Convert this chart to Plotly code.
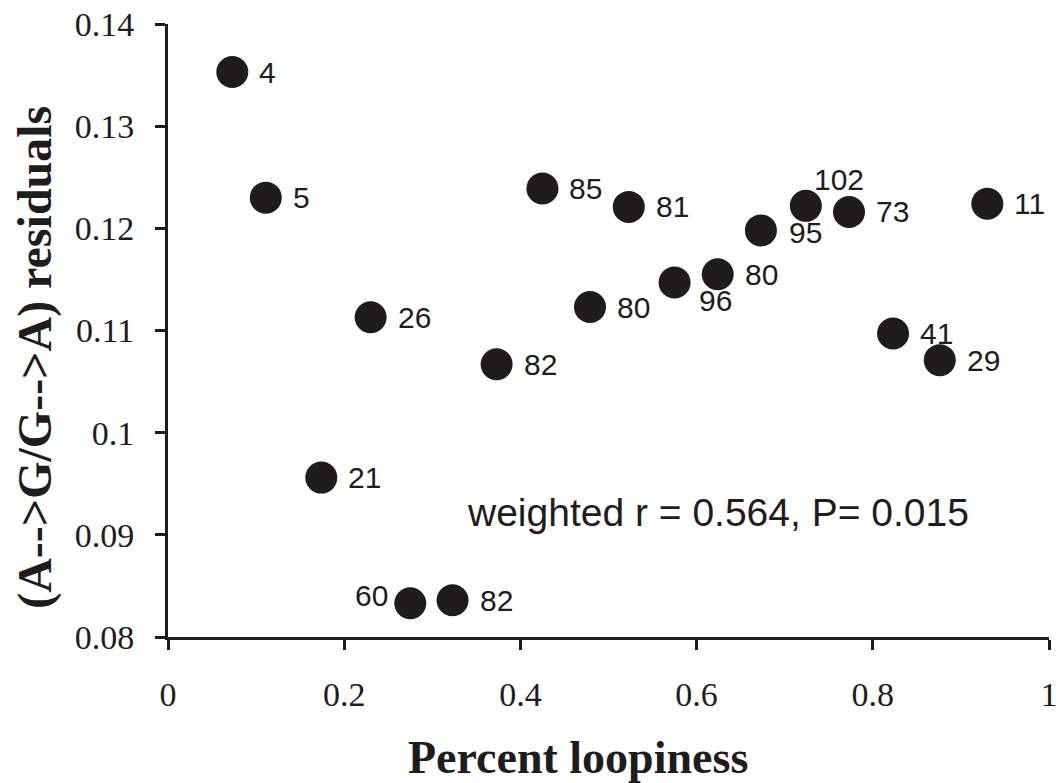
import plotly.graph_objects as go

# Data
loopiness = [0.073, 0.111, 0.230, 0.174, 0.275, 0.323, 0.373, 0.425, 0.479,
             0.523, 0.575, 0.624, 0.673, 0.724, 0.773, 0.823, 0.876, 0.930]
residuals = [0.1353, 0.1230, 0.1113, 0.0956, 0.0833, 0.0836, 0.1067, 0.1239, 0.1123,
             0.1221, 0.1147, 0.1155, 0.1198, 0.1222, 0.1216, 0.1097, 0.1071, 0.1224]
point_labels = ["4", "5", "26", "21", "60", "82", "82", "85", "80",
                "81", "96", "80", "95", "102", "73", "41", "29", "11"]

x_ticks = [0, 0.2, 0.4, 0.6, 0.8, 1]
x_tick_text = ["0", "0.2", "0.4", "0.6", "0.8", "1"]
y_ticks = [0.08, 0.09, 0.10, 0.11, 0.12, 0.13, 0.14]
y_tick_text = ["0.08", "0.09", "0.1", "0.11", "0.12", "0.13", "0.14"]

stat_text = "weighted r = 0.564, P= 0.015"
x_title = "Percent loopiness"
y_title = "(A-->G/G-->A) residuals"

INK = "#1f1c1d"
SANS = "Liberation Sans, Arial, sans-serif"
SERIF = "Liberation Serif, Times New Roman, serif"

# label placement (style): default right of the point
default_offset = (25, 0, "left")
special = {4: (-20, 8, "right"), 10: (22, -18, "left"), 12: (26, -2, "left"),
           13: (6, 26, "left")}

fig = go.Figure()
fig.add_trace(go.Scatter(
    x=loopiness, y=residuals, mode="markers",
    marker=dict(size=32, color=INK, line=dict(width=0)),
    hoverinfo="skip", showlegend=False))

annotations = []
for i, (xv, yv, lab) in enumerate(zip(loopiness, residuals, point_labels)):
    dx, dy, anchor = special.get(i, default_offset)
    annotations.append(dict(
        x=xv, y=yv, xref="x", yref="y", text=lab, showarrow=False,
        xanchor=anchor, yanchor="middle", xshift=dx, yshift=dy,
        font=dict(family=SANS, size=30, color=INK)))

annotations.append(dict(
    x=0.624, y=0.0922, xref="x", yref="y", text=stat_text, showarrow=False,
    xanchor="center", yanchor="middle",
    font=dict(family=SANS, size=39, color=INK)))

annotations.append(dict(
    x=0.465, y=-0.196, xref="paper", yref="paper", text="<b>" + x_title + "</b>",
    showarrow=False, xanchor="center", yanchor="middle",
    font=dict(family=SERIF, size=46, color=INK)))
annotations.append(dict(
    x=-0.151, y=0.457, xref="paper", yref="paper", text="<b>" + y_title + "</b>",
    showarrow=False, xanchor="center", yanchor="middle", textangle=-90,
    font=dict(family=SERIF, size=48, color=INK)))

axis_common = dict(
    showline=True, linecolor=INK, linewidth=3, mirror=False,
    ticks="outside", ticklen=10, tickwidth=3, tickcolor=INK,
    showgrid=False, zeroline=False,
    tickfont=dict(family=SERIF, size=34, color=INK))

fig.update_layout(
    width=1060, height=783,
    margin=dict(l=168, r=11, t=24, b=146, autoexpand=False),
    paper_bgcolor="white", plot_bgcolor="white",
    xaxis=dict(range=[0, 1], tickvals=x_ticks, ticktext=x_tick_text,
               ticklabelstandoff=15, **axis_common),
    yaxis=dict(range=[0.08, 0.14], tickvals=y_ticks, ticktext=y_tick_text,
               ticklabelstandoff=14, **axis_common),
    annotations=annotations,
)

fig.write_html("out.html", config={"displayModeBar": False},
               post_script="document.body.style.margin='0';document.body.style.overflow='hidden';")
